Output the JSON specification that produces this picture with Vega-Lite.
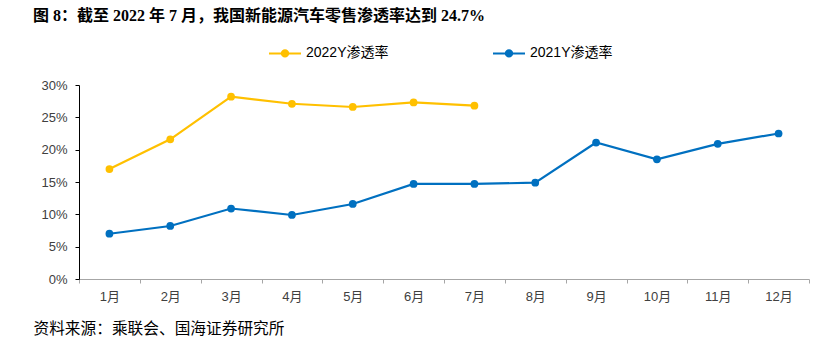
{
  "$schema": "https://vega.github.io/schema/vega-lite/v6.json",
  "width": 730,
  "height": 194,
  "autosize": {"type": "none"},
  "padding": {"left": 79, "top": 85, "right": 27, "bottom": 67},
  "background": "white",
  "title": {
    "text": "图 8：截至 2022 年 7 月，我国新能源汽车零售渗透率达到 24.7%",
    "anchor": "start",
    "frame": "group",
    "dx": -46,
    "offset": 12,
    "font": "Liberation Serif, Noto Sans CJK SC",
    "fontSize": 16,
    "fontWeight": "bold",
    "color": "#000000"
  },
  "config": {
    "view": {"stroke": null},
    "font": "Liberation Sans, Noto Sans CJK SC"
  },
  "data": {
    "values": [
      {"month": "1月", "series": "2022Y渗透率", "value": 17.0},
      {"month": "2月", "series": "2022Y渗透率", "value": 21.6},
      {"month": "3月", "series": "2022Y渗透率", "value": 28.2},
      {"month": "4月", "series": "2022Y渗透率", "value": 27.1},
      {"month": "5月", "series": "2022Y渗透率", "value": 26.6},
      {"month": "6月", "series": "2022Y渗透率", "value": 27.3},
      {"month": "7月", "series": "2022Y渗透率", "value": 26.8},
      {"month": "1月", "series": "2021Y渗透率", "value": 7.0},
      {"month": "2月", "series": "2021Y渗透率", "value": 8.2},
      {"month": "3月", "series": "2021Y渗透率", "value": 10.9},
      {"month": "4月", "series": "2021Y渗透率", "value": 9.9},
      {"month": "5月", "series": "2021Y渗透率", "value": 11.6},
      {"month": "6月", "series": "2021Y渗透率", "value": 14.7},
      {"month": "7月", "series": "2021Y渗透率", "value": 14.7},
      {"month": "8月", "series": "2021Y渗透率", "value": 14.9},
      {"month": "9月", "series": "2021Y渗透率", "value": 21.1},
      {"month": "10月", "series": "2021Y渗透率", "value": 18.5},
      {"month": "11月", "series": "2021Y渗透率", "value": 20.9},
      {"month": "12月", "series": "2021Y渗透率", "value": 22.5}
    ]
  },
  "mark": {"type": "line", "strokeWidth": 2.2, "point": {"filled": true, "size": 60}},
  "encoding": {
    "x": {
      "field": "month",
      "type": "ordinal",
      "sort": ["1月", "2月", "3月", "4月", "5月", "6月", "7月", "8月", "9月", "10月", "11月", "12月"],
      "scale": {"paddingInner": 0, "paddingOuter": 0},
      "axis": {
        "title": "资料来源：乘联会、国海证券研究所",
        "titleAnchor": null,
        "titleAlign": "left",
        "titleBaseline": "middle",
        "titleX": -46,
        "titleY": 49,
        "titleFontSize": 15.7,
        "titleFontWeight": "normal",
        "titleColor": "#000000",
        "labelAngle": 0,
        "labelFontSize": 13,
        "labelColor": "#404040",
        "labelPadding": 7,
        "domainColor": "#a6a6a6",
        "tickColor": "#a6a6a6",
        "tickSize": 4,
        "tickBand": "extent",
        "grid": false
      }
    },
    "y": {
      "field": "value",
      "type": "quantitative",
      "scale": {"domain": [0, 30], "nice": false},
      "axis": {
        "title": null,
        "values": [0, 5, 10, 15, 20, 25, 30],
        "labelExpr": "datum.value + '%'",
        "labelFontSize": 13,
        "labelColor": "#404040",
        "labelPadding": 8,
        "domainColor": "#000000",
        "tickColor": "#000000",
        "tickSize": 4,
        "grid": false
      }
    },
    "color": {
      "field": "series",
      "type": "nominal",
      "scale": {"domain": ["2022Y渗透率", "2021Y渗透率"], "range": ["#FFC000", "#0070C0"]},
      "legend": {
        "title": null,
        "orient": "none",
        "legendX": 189,
        "legendY": -49,
        "direction": "horizontal",
        "columns": 2,
        "columnPadding": 100,
        "symbolType": "M-1,0H1M0.2,0A0.2,0.2,0,1,1,-0.2,0A0.2,0.2,0,1,1,0.2,0Z",
        "symbolSize": 1024,
        "symbolStrokeWidth": 2,
        "labelFontSize": 14,
        "labelColor": "#000000",
        "labelOffset": 4,
        "encode": {"symbols": {"update": {"fill": {"scale": "color", "field": "value"}, "stroke": {"scale": "color", "field": "value"}}}}
      }
    }
  }
}
